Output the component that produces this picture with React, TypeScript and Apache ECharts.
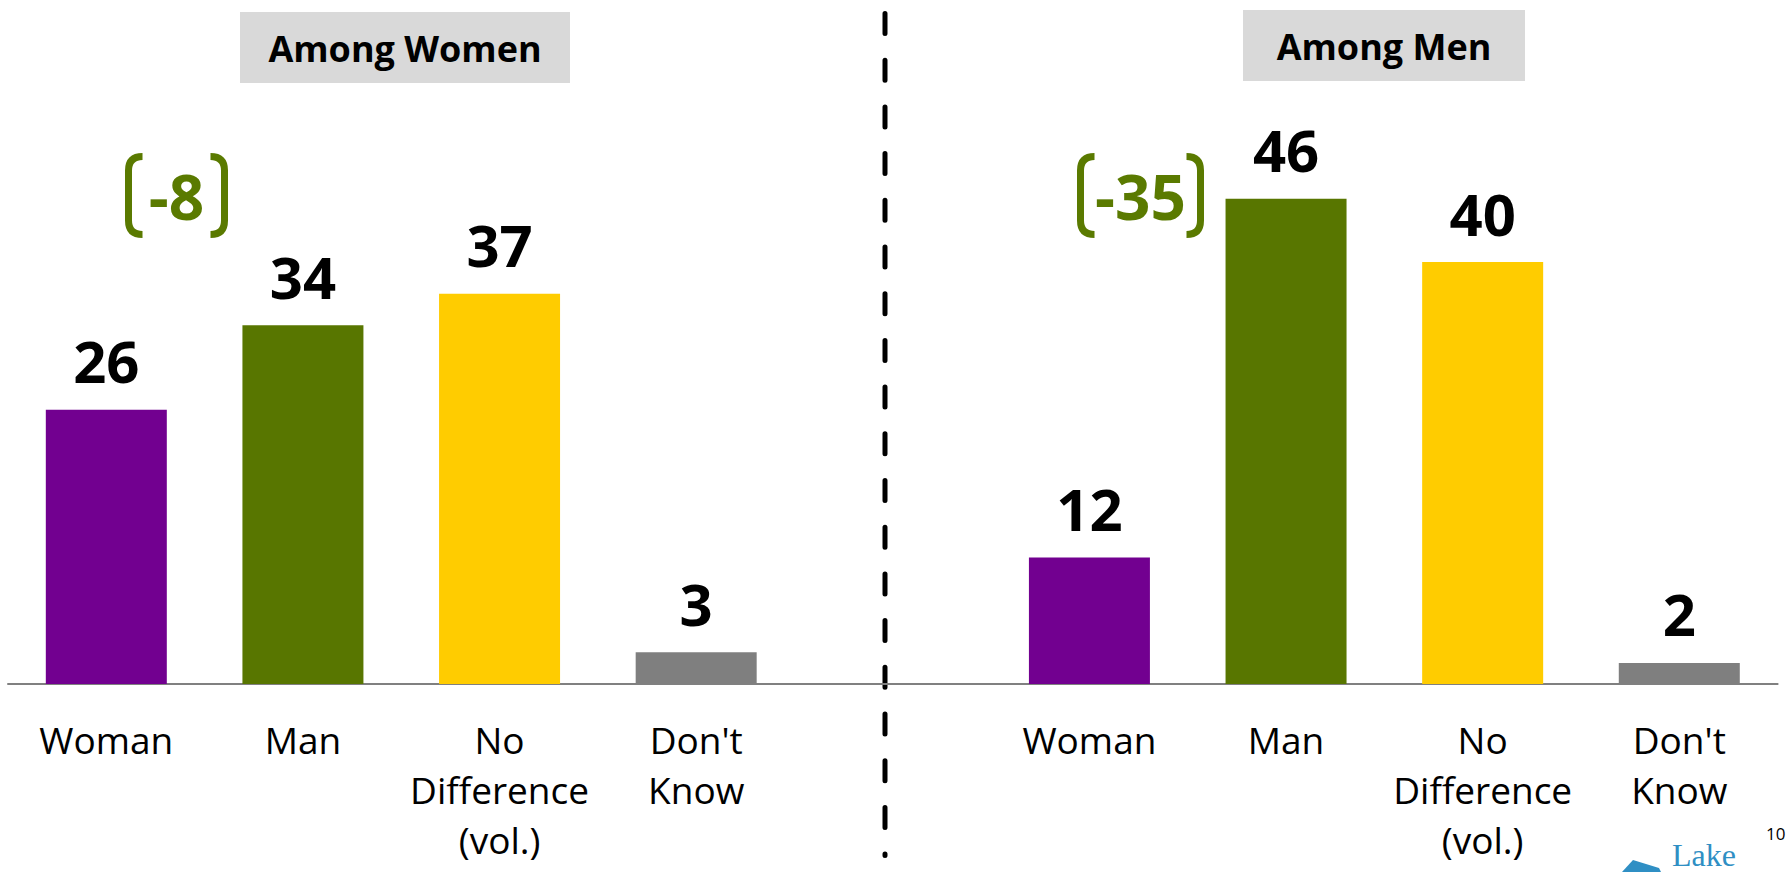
import React, { useEffect, useRef } from "react";
import * as echarts from "echarts";

const categories = ["Woman", "Man", "No\nDifference\n(vol.)", "Don't\nKnow"];
const womenValues = [26, 34, 37, 3];
const menValues = [12, 46, 40, 2];
const panelTitles = ["Among Women", "Among Men"];
const gapLabels = ["-8", "-35"];
const pageNumber = "10";
const logoText = "Lake";

const barColors = ["#720090", "#587600", "#FFCC00", "#7F7F7F"];
const bracketGreen = "#5A7A00";

echarts.graphic.registerShape(
  "bracketShape",
  echarts.graphic.extendPath("M 14 0 Q 0 0 0 14 L 0 64 Q 0 78 14 78", {})
);

export default function App() {
  const ref = useRef<HTMLDivElement>(null);

  useEffect(() => {
    document.body.style.margin = "0";
    const chart = echarts.init(ref.current!, null, { renderer: "svg" });

    const mk = (vals: number[]) =>
      vals.map((v, i) => ({ value: v, itemStyle: { color: barColors[i] } }));
    const seriesData: any[] = [...mk(womenValues), "-", ...mk(menValues)];
    const axisData = [...categories, "", ...categories];

    const font = "'Open Sans', sans-serif";

    const bracket = (x: number, flip: boolean) => ({
      type: "bracketShape",
      x,
      y: 156.5,
      scaleX: flip ? -1 : 1,
      style: { stroke: bracketGreen, lineWidth: 7, fill: "none", lineCap: "butt" },
    });

    const titleBox = (x: number, y: number, w: number, h: number, text: string) => ({
      type: "group",
      children: [
        { type: "rect", shape: { x, y, width: w, height: h }, style: { fill: "#D9D9D9" } },
        {
          type: "text",
          x: x + w / 2,
          y: y + h / 2 + 1,
          style: {
            text,
            fontFamily: font,
            fontWeight: "bold",
            fontSize: 36,
            fill: "#000",
            align: "center",
            verticalAlign: "middle",
          },
        },
      ],
    });

    const gapText = (x: number, text: string) => ({
      type: "text",
      x,
      y: 196,
      style: {
        text,
        fontFamily: font,
        fontWeight: "bold",
        fontSize: 62,
        fill: bracketGreen,
        align: "center",
        verticalAlign: "middle",
      },
    });

    chart.setOption({
      animation: false,
      backgroundColor: "#fff",
      grid: { left: 8, right: 9.4, top: 51, bottom: 188, containLabel: false },
      xAxis: {
        type: "category",
        data: axisData,
        axisLine: { show: true, lineStyle: { color: "#808080", width: 2 } },
        axisTick: { show: false },
        axisLabel: {
          interval: 0,
          margin: 30,
          fontFamily: font,
          fontSize: 37,
          lineHeight: 50,
          color: "#000",
          hideOverlap: false,
        },
      },
      yAxis: {
        type: "value",
        min: 0,
        max: 60,
        show: false,
        splitLine: { show: false },
      },
      series: [
        {
          type: "bar",
          data: seriesData,
          barWidth: 121,
          label: {
            show: true,
            position: "top",
            distance: 20,
            fontFamily: font,
            fontWeight: "bold",
            fontSize: 58,
            color: "#000",
          },
        },
      ],
      graphic: [
        titleBox(240, 12, 330, 71, panelTitles[0]),
        titleBox(1243, 10, 282, 71, panelTitles[1]),
        bracket(128.5, false),
        bracket(224.5, true),
        gapText(176.5, gapLabels[0]),
        bracket(1080.5, false),
        bracket(1200.5, true),
        gapText(1140.5, gapLabels[1]),
        {
          type: "line",
          shape: { x1: 885, y1: 13.5, x2: 885, y2: 855.5 },
          style: { stroke: "#000", lineWidth: 5, lineDash: [20, 26.7], lineCap: "round" },
        },
        {
          type: "text",
          x: 1766,
          y: 833,
          style: { text: pageNumber, fontFamily: font, fontSize: 17, fill: "#000", verticalAlign: "middle" },
        },
        {
          type: "polygon",
          shape: { points: [[1622, 872], [1633, 860], [1659, 868], [1661, 872]] },
          style: { fill: "#2F8FC4" },
        },
        {
          type: "text",
          x: 1672,
          y: 871,
          style: {
            text: logoText,
            fontFamily: "'Liberation Serif', serif",
            fontSize: 32,
            fill: "#2F8FC4",
            verticalAlign: "bottom",
          },
        },
      ],
    });

    return () => chart.dispose();
  }, []);

  return <div ref={ref} style={{ width: 1787, height: 872 }} />;
}
